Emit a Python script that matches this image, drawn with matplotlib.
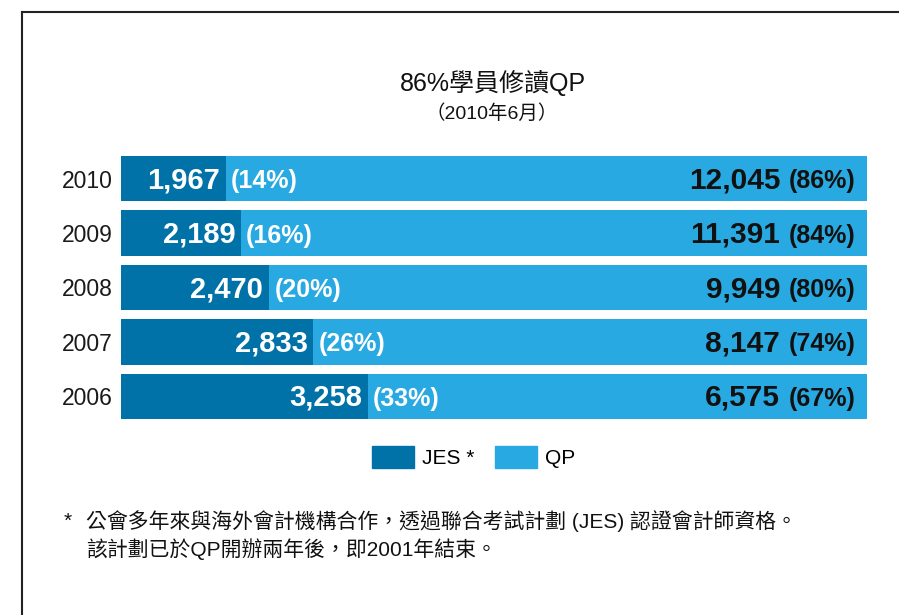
import matplotlib
matplotlib.use("Agg")
import matplotlib.pyplot as plt
from matplotlib.patches import Patch
from matplotlib.lines import Line2D

plt.rcParams['font.family'] = ['Liberation Sans', 'Noto Sans CJK TC', 'DejaVu Sans']

# data
years = ["2010", "2009", "2008", "2007", "2006"]
jes = [1967, 2189, 2470, 2833, 3258]
qp = [12045, 11391, 9949, 8147, 6575]
jes_pct = ["(14%)", "(16%)", "(20%)", "(26%)", "(33%)"]
qp_pct = ["(86%)", "(84%)", "(80%)", "(74%)", "(67%)"]

dark = "#0072a7"
light = "#29a9e1"
W, H, DPI = 899, 615, 100

fig = plt.figure(figsize=(W / DPI, H / DPI), dpi=DPI)
ax = fig.add_axes([121 / W, 1 - 419 / H, 746 / W, 263 / H])

ypos = list(range(len(years)))
share_j = [j / (j + q) for j, q in zip(jes, qp)]
share_q = [q / (j + q) for j, q in zip(jes, qp)]

ax.barh(ypos, share_j, height=0.826, color=dark)
ax.barh(ypos, share_q, left=share_j, height=0.826, color=light)
ax.set_xlim(0, 1)
ax.set_ylim(4.413, -0.413)
for s in ax.spines.values():
    s.set_visible(False)
ax.set_xticks([])
ax.set_yticks(ypos, years, fontsize=16.5, color="#1a1a1a")
ax.tick_params(axis="y", length=0, pad=6)

px = 72 / DPI  # pixels -> points
base = -9.5 * px

# labels on the dark part
for y, x, v, p in zip(ypos, share_j, jes, jes_pct):
    ax.annotate(f"{v:,}", (x, y), xytext=(-6 * px, base), textcoords="offset points",
                ha="right", va="baseline", fontsize=21, fontweight="bold", color="white")
    ax.annotate(p, (x, y), xytext=(5 * px, base), textcoords="offset points",
                ha="left", va="baseline", fontsize=18, fontweight="bold", color="white")

# labels on the light part
pct_texts = []
for y, p in zip(ypos, qp_pct):
    t = ax.annotate(p, (1, y), xytext=(-11 * px, base), textcoords="offset points",
                    ha="right", va="baseline", fontsize=18, fontweight="bold", color="#111111")
    pct_texts.append(t)

fig.canvas.draw()
renderer = fig.canvas.get_renderer()
for y, v, t in zip(ypos, qp, pct_texts):
    bb = t.get_window_extent(renderer)
    xd = ax.transData.inverted().transform((bb.x0 - 9, 0))[0]
    ax.annotate(f"{v:,}", (xd, y), xytext=(0, base), textcoords="offset points",
                ha="right", va="baseline", fontsize=21.5, fontweight="bold", color="#111111")

# titles
fig.text(493 / W, 1 - 83 / H, "86%學員修讀QP", ha="center", va="center", fontsize=18, color="#111111")
fig.text(492 / W, 1 - 114 / H, "（2010年6月）", ha="center", va="center", fontsize=14, color="#111111")

# legend
handles = [Patch(color=dark, label="JES *"), Patch(color=light, label="QP")]
fig.legend(handles=handles, loc="center", bbox_to_anchor=(474 / W, 1 - 457 / H), ncol=2,
           frameon=False, fontsize=15, handlelength=2.0, handleheight=1.25,
           handletextpad=0.4, columnspacing=1.0, borderpad=0)

# footnote
fig.text(64 / W, 1 - 521 / H, "*", ha="left", va="center", fontsize=15, color="#111111")
fig.text(86 / W, 1 - 521 / H, "公會多年來與海外會計機構合作，透過聯合考試計劃 (JES) 認證會計師資格。",
         ha="left", va="center", fontsize=15, color="#111111")
fig.text(86 / W, 1 - 549 / H, "該計劃已於QP開辦兩年後，即2001年結束。",
         ha="left", va="center", fontsize=15, color="#111111")

# frame lines
fig.add_artist(Line2D([22 / W, 1], [1 - 12 / H, 1 - 12 / H], color="#222222", lw=1.5))
fig.add_artist(Line2D([22 / W, 22 / W], [0, 1 - 12 / H], color="#222222", lw=1.5))

fig.savefig("out.png", dpi=DPI)
